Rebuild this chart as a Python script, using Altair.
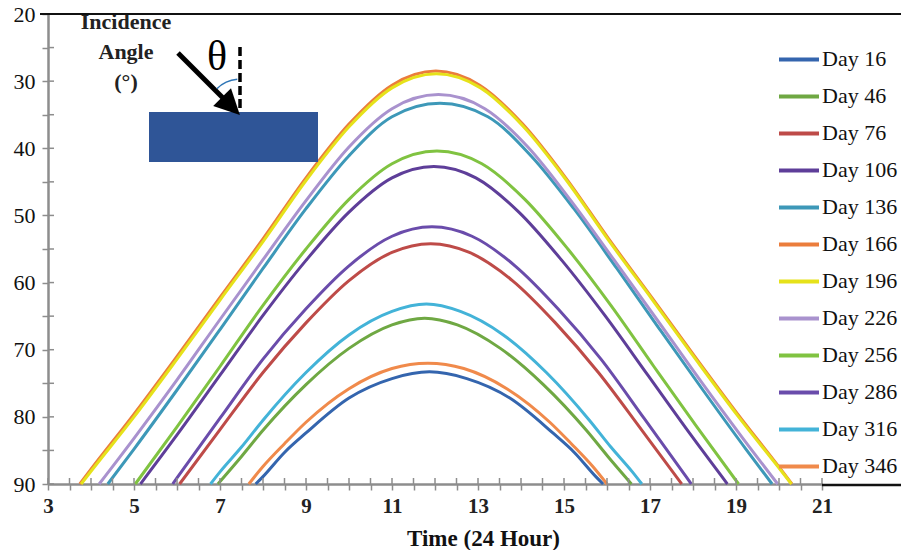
import altair as alt
import pandas as pd

days = ["Day 16", "Day 46", "Day 76", "Day 106", "Day 136", "Day 166",
        "Day 196", "Day 226", "Day 256", "Day 286", "Day 316", "Day 346"]
colors = ["#3465AE", "#6FA843", "#BE4B48", "#5E3E99", "#3D98B8", "#EB7D3C",
          "#E6E21A", "#A992CE", "#80C341", "#6A4CAB", "#43B3D8", "#F08A4B"]

# time of day (h) and incidence angle (deg)
t_016 = [7.83, 8.0, 8.5, 9.0, 10.0, 11.0, 11.87, 12.74, 13.74, 14.74, 15.24, 15.74, 15.91]
a_016 = [90, 88.9, 85.3, 82.4, 77.2, 74.3, 73.3, 74.3, 77.2, 82.4, 85.3, 88.9, 90]
t_046 = [6.95, 7.5, 8, 9, 10, 11, 11.76, 12.52, 13.52, 14.52, 15.52, 16.02, 16.57]
a_046 = [90, 85.9, 82.0, 75.2, 69.8, 66.3, 65.3, 66.3, 69.8, 75.2, 82.0, 85.9, 90]
t_076 = [6.06, 7, 8, 9, 10, 11, 11.9, 12.8, 13.8, 14.8, 15.8, 16.8, 17.74]
a_076 = [90, 81.9, 73.4, 66.0, 59.7, 55.5, 54.2, 55.5, 59.7, 66.0, 73.4, 81.9, 90]
t_106 = [5.15, 6, 7, 8, 9, 10, 11, 11.975, 12.95, 13.95, 14.95, 15.95, 16.95, 17.95, 18.8]
a_106 = [90, 82.7, 73.8, 64.9, 56.7, 49.5, 44.4, 42.7, 44.4, 49.5, 56.7, 64.9, 73.8, 82.7, 90]
t_136 = [4.39, 5, 6, 7, 8, 9, 10, 11, 12.115, 13.23, 14.23, 15.23, 16.23, 17.23, 18.23, 19.23, 19.84]
a_136 = [90, 84.8, 76.0, 67.0, 57.9, 49.0, 41.1, 35.3, 33.3, 35.3, 41.1, 49.0, 57.9, 67.0, 76.0, 84.8, 90]
t_166 = [3.74, 4, 5, 6, 7, 8, 9, 10, 11, 12.02, 13.04, 14.04, 15.04, 16.04, 17.04, 18.04, 19.04, 20.04, 20.3]
a_166 = [90, 87.8, 79.6, 71.0, 62.2, 53.5, 44.4, 36.4, 30.6, 28.5, 30.6, 36.4, 44.4, 53.5, 62.2, 71.0, 79.6, 87.8, 90]
t_196 = [3.77, 4, 5, 6, 7, 8, 9, 10, 11, 12.03, 13.06, 14.06, 15.06, 16.06, 17.06, 18.06, 19.06, 20.06, 20.29]
a_196 = [90, 88.1, 80.0, 71.4, 62.6, 53.9, 44.8, 36.8, 31.0, 28.9, 31.0, 36.8, 44.8, 53.9, 62.6, 71.4, 80.0, 88.1, 90]
t_226 = [4.19, 5, 6, 7, 8, 9, 10, 11, 12.08, 13.16, 14.16, 15.16, 16.16, 17.16, 18.16, 19.16, 19.97]
a_226 = [90, 83.2, 74.5, 65.5, 56.6, 47.8, 39.8, 34.1, 32.0, 34.1, 39.8, 47.8, 56.6, 65.5, 74.5, 83.2, 90]
t_256 = [5.03, 6, 7, 8, 9, 10, 11, 12.045, 13.09, 14.09, 15.09, 16.09, 17.09, 18.09, 19.06]
a_256 = [90, 81.5, 72.5, 63.4, 55.0, 47.6, 42.3, 40.4, 42.3, 47.6, 55.0, 63.4, 72.5, 81.5, 90]
t_286 = [5.9, 6, 7, 8, 9, 10, 11, 11.93, 12.86, 13.86, 14.86, 15.86, 16.86, 17.86, 17.96]
a_286 = [90, 89.1, 80.2, 71.4, 63.9, 57.5, 53.1, 51.7, 53.1, 57.5, 63.9, 71.4, 80.2, 89.1, 90]
t_316 = [6.78, 7, 7.5, 8, 9, 10, 11, 11.8, 12.59, 13.59, 14.59, 15.59, 16.09, 16.59, 16.81]
a_316 = [90, 88.2, 84.5, 80.5, 73.4, 67.8, 64.3, 63.2, 64.3, 67.8, 73.4, 80.5, 84.5, 88.2, 90]
t_346 = [7.67, 8, 8.5, 9, 10, 11, 11.835, 12.67, 13.67, 14.67, 15.17, 15.67, 16.0]
a_346 = [90, 87.4, 84.0, 80.8, 75.8, 72.8, 72.0, 72.8, 75.8, 80.8, 84.0, 87.4, 90]

series = {
    "Day 16": (t_016, a_016), "Day 46": (t_046, a_046), "Day 76": (t_076, a_076),
    "Day 106": (t_106, a_106), "Day 136": (t_136, a_136), "Day 166": (t_166, a_166),
    "Day 196": (t_196, a_196), "Day 226": (t_226, a_226), "Day 256": (t_256, a_256),
    "Day 286": (t_286, a_286), "Day 316": (t_316, a_316), "Day 346": (t_346, a_346),
}

x_ticks = [3, 3.5, 4, 4.5, 5, 5.5, 6, 6.5, 7, 7.5, 8, 8.5, 9, 9.5, 10, 10.5, 11, 11.5,
           12, 12.5, 13, 13.5, 14, 14.5, 15, 15.5, 16, 16.5, 17, 17.5, 18, 18.5, 19,
           19.5, 20, 20.5, 21]
y_ticks = [20, 25, 30, 35, 40, 45, 50, 55, 60, 65, 70, 75, 80, 85, 90]
note_lines = ["Incidence", "Angle", "(°)"]
x_title = "Time (24 Hour)"

rows = []
for d in days:
    ts, as_ = series[d]
    for t, a in zip(ts, as_):
        rows.append({"day": d, "time": t, "angle": a})
df = pd.DataFrame(rows)

W, H = 774, 470
GREY = "#8d8d8d"
SERIF = "Liberation Serif"

xs = alt.Scale(domain=[3, 21], nice=False, zero=False)
ys = alt.Scale(domain=[20, 90], reverse=True, nice=False, zero=False)

x_axis = alt.Axis(
    values=x_ticks, format="~g",
    labelExpr="datum.value % 2 == 1 ? datum.label : ''",
    labelFont=SERIF, labelFontWeight="bold", labelFontSize=21, labelColor="#222",
    labelPadding=5, labelFlush=False, labelOverlap=False,
    tickSize=6, tickColor=GREY, tickWidth=1.5, domainColor=GREY, domainWidth=2.5,
    grid=False, title=x_title, titleFont=SERIF, titleFontWeight="bold",
    titleFontSize=23, titleColor="#111", titleX=435, titleY=61,
    titleBaseline="alphabetic", titleAlign="center")
y_axis = alt.Axis(
    values=y_ticks, format="~g",
    labelExpr="datum.value % 10 == 0 ? datum.label : ''",
    labelFont=SERIF, labelFontSize=22, labelColor="#111", labelPadding=7,
    labelFlush=False, labelOverlap=False,
    tickSize=6, tickColor=GREY, tickWidth=1.5, domainColor=GREY, domainWidth=2.5,
    grid=False, title=None)

lines = alt.Chart(df).mark_line(strokeWidth=3, interpolate="monotone").encode(
    x=alt.X("time:Q", scale=xs, axis=x_axis),
    y=alt.Y("angle:Q", scale=ys, axis=y_axis),
    color=alt.Color("day:N", sort=days, scale=alt.Scale(domain=days, range=colors),
                    legend=alt.Legend(title=None, orient="none", legendX=729, legendY=27,
                                      symbolType="stroke", symbolSize=1600,
                                      symbolStrokeWidth=4, labelFont=SERIF,
                                      labelFontSize=22, labelColor="#111",
                                      clipHeight=36.8, rowPadding=0, labelOffset=1,
                                      padding=0, symbolOffset=0)),
)

# inner half of the crossing tick marks
xtick_in = alt.Chart(pd.DataFrame({"time": x_ticks})).mark_rule(
    color=GREY, strokeWidth=1.5).encode(
    x=alt.X("time:Q", scale=xs, axis=x_axis), y=alt.value(H - 6), y2=alt.value(H))
ytick_in = alt.Chart(pd.DataFrame({"angle": y_ticks})).mark_rule(
    color=GREY, strokeWidth=1.5).encode(
    y=alt.Y("angle:Q", scale=ys, axis=y_axis), x=alt.value(0), x2=alt.value(6))

one = pd.DataFrame({"k": [0]})
panel = alt.Chart(one).mark_rect(color="#2F5597").encode(
    x=alt.value(101), x2=alt.value(270), y=alt.value(98), y2=alt.value(148))
shaft = alt.Chart(one).mark_rule(color="black", strokeWidth=5).encode(
    x=alt.value(130), y=alt.value(39), x2=alt.value(184), y2=alt.value(93))
head = alt.Chart(one).mark_point(shape="M0,-1L0.9,0.8L-0.9,0.8Z", filled=True,
                                 color="black", opacity=1, angle=135, size=784).encode(
    x=alt.value(182), y=alt.value(91))
dash = alt.Chart(one).mark_rule(color="black", strokeWidth=3.5, strokeDash=[9, 4]).encode(
    x=alt.value(192), y=alt.value(33), y2=alt.value(97))
arc = alt.Chart(one).mark_arc(radius=33.5, radius2=32, theta=5.5, theta2=6.2,
                              color="#2E75B6").encode(x=alt.value(192), y=alt.value(98))
theta_txt = alt.Chart(one).mark_text(text="θ", font=SERIF, fontSize=42, color="black",
                                     baseline="middle", align="center").encode(
    x=alt.value(169), y=alt.value(43))
note = alt.Chart(one).mark_text(font=SERIF, fontSize=22, fontWeight="bold",
                                color="#222", lineHeight=30, baseline="middle",
                                align="center").encode(
    x=alt.value(78), y=alt.value(8), text=alt.value(note_lines))
top_line = alt.Chart(one).mark_rule(color="#111", strokeWidth=2).encode(
    x=alt.value(-8), x2=alt.value(861), y=alt.value(0))
bottom_line = alt.Chart(one).mark_rule(color="#111", strokeWidth=2.5).encode(
    x=alt.value(774), x2=alt.value(861), y=alt.value(471))

chart = alt.layer(
    lines, xtick_in, ytick_in, panel, shaft, head, dash, arc, theta_txt, note,
    top_line, bottom_line
).properties(
    width=W, height=H,
    padding={"left": 40, "top": 6, "right": 79, "bottom": 66},
    autosize=alt.AutoSizeParams(type="none"),
    background="white",
).configure_view(stroke=None)

chart.save("out.html", embed_options={"renderer": "svg", "actions": False})
